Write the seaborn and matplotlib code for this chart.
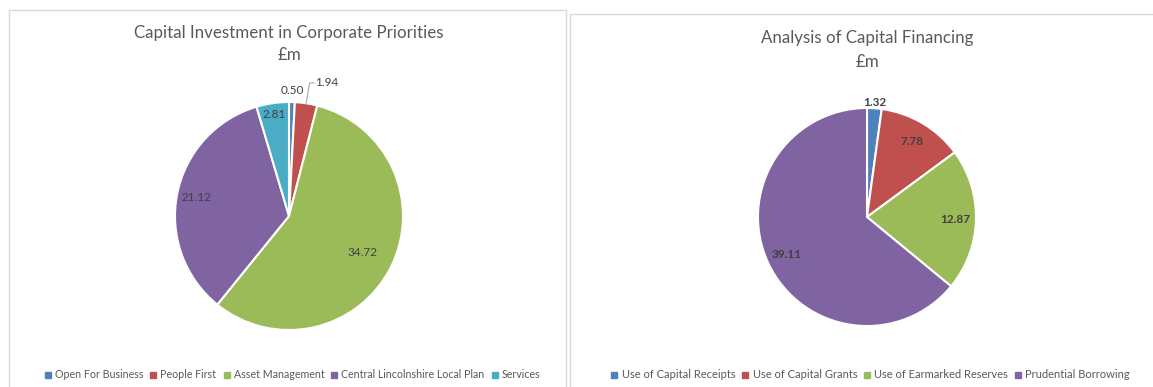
import numpy as np
import matplotlib
matplotlib.use("Agg")
import matplotlib.pyplot as plt
from matplotlib.lines import Line2D
import seaborn as sns

# ---- data ----
left_title = "Capital Investment in Corporate Priorities\n£m"
left_labels = ["Open For Business", "People First", "Asset Management",
               "Central Lincolnshire Local Plan", "Services"]
left_values = [0.50, 1.94, 34.72, 21.12, 2.81]

right_title = "Analysis of Capital Financing\n£m"
right_labels = ["Use of Capital Receipts", "Use of Capital Grants",
                "Use of Earmarked Reserves", "Prudential Borrowing"]
right_values = [1.32, 7.78, 12.87, 39.11]

colors = ["#4F81BD", "#C0504D", "#9BBB59", "#8064A2", "#4BACC6"]

sns.set_theme(style="white")
plt.rcParams["font.family"] = ["Lato", "DejaVu Sans"]

W, H = 1153, 387
fig = plt.figure(figsize=(W / 100, H / 100), dpi=100)
fig.patch.set_facecolor("white")

TXT = "#595959"
LBL = "#404040"
LFS = 8.5


def add_pie_axes(cx, cy, r):
    return fig.add_axes([(cx - r) / W, (H - cy - r) / H, 2 * r / W, 2 * r / H])


def mid_angles(values):
    vals = np.asarray(values, dtype=float)
    cum = np.cumsum(vals) / vals.sum() * 360.0
    start = np.concatenate([[0], cum[:-1]])
    return (start + cum) / 2.0  # degrees clockwise from 12 o'clock


def draw_pie(ax, values, pal):
    ax.pie(values, colors=pal, startangle=90, counterclock=False,
           wedgeprops=dict(edgecolor="white", linewidth=1.5))
    ax.set_xlim(-1, 1)
    ax.set_ylim(-1, 1)
    ax.set_aspect("auto")
    ax.axis("off")


# ---- left pie ----
axL = add_pie_axes(289, 216, 114)
draw_pie(axL, left_values, colors[:5])
angL = np.deg2rad(mid_angles(left_values))
inside_r = {2: 0.72, 3: 0.83, 4: 0.90}
for i, v in enumerate(left_values):
    a = angL[i]
    if i in inside_r:
        rr = inside_r[i]
        axL.text(np.sin(a) * rr, np.cos(a) * rr, f"{v:.2f}", ha="center",
                 va="center", fontsize=LFS, color=LBL, clip_on=False)
# 0.50 outside, just above its slice
a = angL[0]
axL.text(np.sin(a) * 1.1, np.cos(a) * 1.1, f"{left_values[0]:.2f}",
         ha="center", va="center", fontsize=LFS, color=LBL, clip_on=False)
# 1.94 outside with leader line
a = angL[1]
x0, y0 = np.sin(a) * 1.0, np.cos(a) * 1.0
x1, y1 = x0 + 0.03, 1.167
axL.plot([x0, x1, x1 + 0.04], [y0, y1, y1], color="#A6A6A6", lw=0.8,
         clip_on=False)
axL.text(x1 + 0.05, y1, f"{left_values[1]:.2f}", ha="left", va="center",
         fontsize=LFS, color=LBL, clip_on=False)

# ---- right pie ----
axR = add_pie_axes(867, 217, 109)
draw_pie(axR, right_values, colors[:4])
angR = np.deg2rad(mid_angles(right_values))
for i, v in enumerate(right_values):
    a = angR[i]
    if i == 0:
        axR.text(np.sin(a) * 1.0, 1.05, f"{v:.2f}", ha="center", va="center",
                 fontsize=LFS, color=LBL, fontweight="bold", clip_on=False)
    else:
        rr = 0.81
        axR.text(np.sin(a) * rr, np.cos(a) * rr, f"{v:.2f}", ha="center",
                 va="center", fontsize=LFS, color=LBL, fontweight="bold",
                 clip_on=False)

# ---- titles ----
fig.text(289 / W, 1 - 44 / H, left_title, ha="center", va="center",
         fontsize=12.2, color=TXT, linespacing=1.5)
fig.text(867 / W, 1 - 50 / H, right_title, ha="center", va="center",
         fontsize=12.2, color=TXT, linespacing=1.55)


# ---- legends ----
def make_legend(labels, pal, cx, fs, spacing):
    handles = [Line2D([], [], marker="s", linestyle="none", markersize=4,
                      markerfacecolor=c, markeredgecolor=c) for c in pal]
    fig.legend(handles, labels, loc="center", bbox_to_anchor=(cx / W, 1 - 375 / H),
               ncol=len(labels), frameon=False, fontsize=fs,
               labelcolor=TXT, handletextpad=0.25, columnspacing=spacing,
               handlelength=0.8, borderaxespad=0)


make_legend(left_labels, colors[:5], 292, 7.7, 0.55)
make_legend(right_labels, colors[:4], 870, 8, 0.5)

# ---- panel borders ----
bc = "#D9D9D9"
fig.add_artist(Line2D([9 / W, 566 / W], [1 - 10 / H, 1 - 10 / H], color=bc, lw=1))
fig.add_artist(Line2D([9 / W, 9 / W], [1 - 10 / H, 0], color=bc, lw=1))
fig.add_artist(Line2D([566 / W, 566 / W], [1 - 10 / H, 0], color=bc, lw=1))
fig.add_artist(Line2D([570 / W, 1], [1 - 14 / H, 1 - 14 / H], color=bc, lw=1))
fig.add_artist(Line2D([570 / W, 570 / W], [1 - 14 / H, 0], color=bc, lw=1))

fig.savefig("out.png", dpi=100, facecolor="white")
